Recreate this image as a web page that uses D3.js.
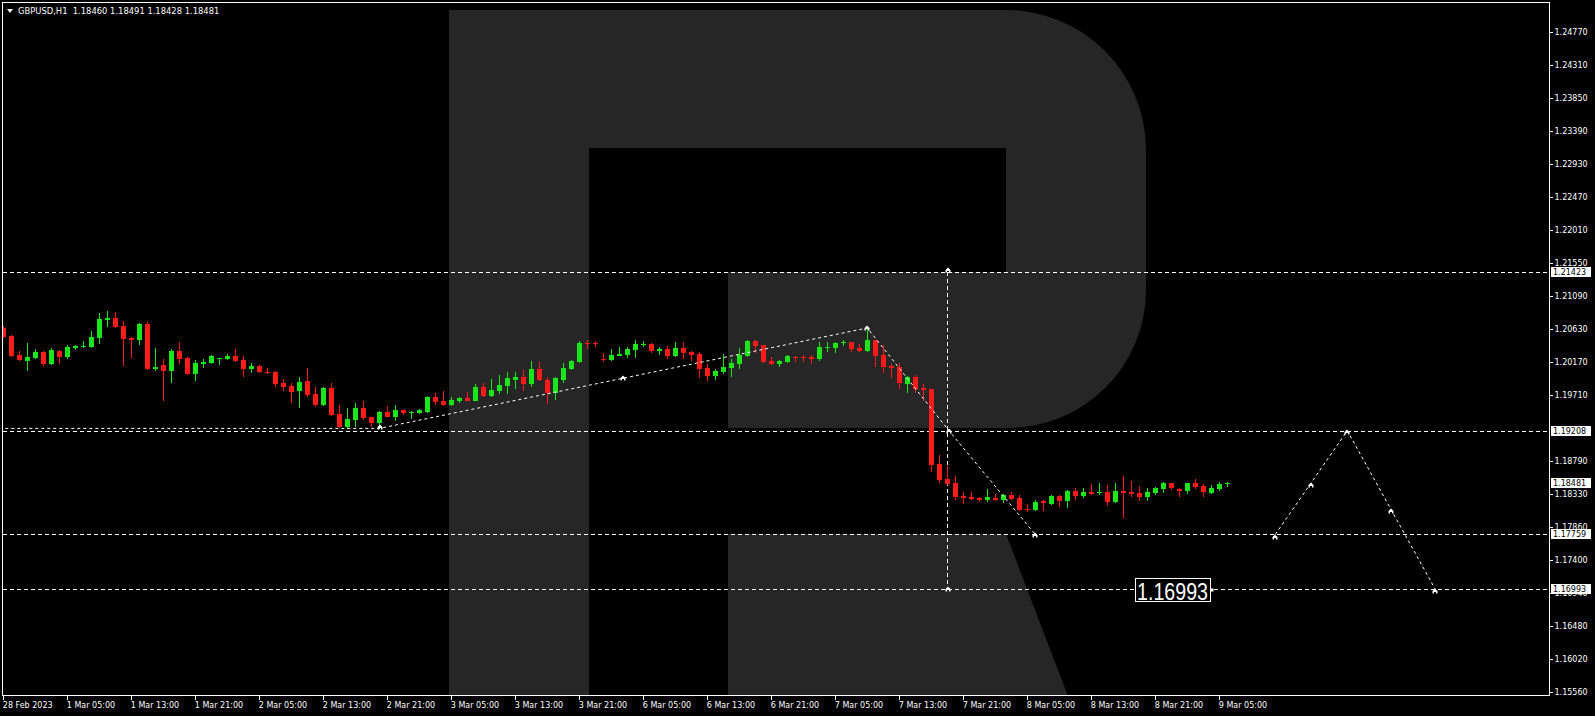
<!DOCTYPE html>
<html><head><meta charset="utf-8">
<script src="https://cdn.jsdelivr.net/npm/d3@7"></script>
<style>
html,body{margin:0;padding:0;background:#000;}
svg{display:block;}
</style></head>
<body>
<svg id="chart" width="1595" height="716"></svg>
<script>
// ---------------- data ----------------
const symbolTitle = "GBPUSD,H1";
const headerOHLC = ["1.18460", "1.18491", "1.18428", "1.18481"];

const opens = [1.20646,1.20530,1.20265,1.20185,1.20223,1.20306,1.20144,1.20320,1.20237,1.20367,
1.20376,1.20376,1.20507,1.20753,1.20781,1.20669,1.20502,1.20479,1.20697,1.20074,
1.20125,1.20046,1.20320,1.20223,1.20004,1.20144,1.20153,1.20213,1.20209,1.20251,
1.20195,1.20069,1.20111,1.20032,1.20032,1.19874,1.19832,1.19767,1.19902,1.19720,
1.19571,1.19804,1.19441,1.19265,1.19362,1.19530,1.19404,1.19321,1.19474,1.19404,
1.19502,1.19460,1.19460,1.19474,1.19684,1.19628,1.19572,1.19628,1.19670,1.19628,
1.19823,1.19692,1.19762,1.19832,1.19916,1.19957,1.19860,1.20069,1.19916,1.19734,
1.19916,1.20069,1.20167,1.20437,1.20437,1.20209,1.20199,1.20255,1.20265,1.20334,
1.20404,1.20418,1.20325,1.20348,1.20251,1.20362,1.20306,1.20279,1.20083,1.19971,
1.20027,1.20083,1.20139,1.20251,1.20460,1.20404,1.20181,1.20139,1.20167,1.20237,
1.20237,1.20237,1.20209,1.20362,1.20362,1.20437,1.20446,1.20362,1.20320,1.20474,
1.20265,1.20111,1.20097,1.19865,1.19958,1.19804,1.19790,1.18743,1.18534,1.18478,
1.18296,1.18282,1.18268,1.18241,1.18268,1.18241,1.18310,1.18268,1.18115,1.18101,
1.18227,1.18185,1.18296,1.18227,1.18366,1.18296,1.18352,1.18338,1.18352,1.18213,
1.18366,1.18352,1.18338,1.18282,1.18338,1.18394,1.18478,1.18394,1.18366,1.18478,
1.18436,1.18338,1.18394,1.18460];
const highs = [1.20669,1.20544,1.20320,1.20432,1.20344,1.20320,1.20358,1.20334,1.20404,1.20404,
1.20460,1.20600,1.20851,1.20879,1.20865,1.20739,1.20516,1.20711,1.20725,1.20362,
1.20209,1.20348,1.20446,1.20237,1.20195,1.20209,1.20265,1.20223,1.20279,1.20348,
1.20251,1.20153,1.20125,1.20083,1.20041,1.19934,1.19878,1.19957,1.20083,1.19818,
1.19822,1.19874,1.19566,1.19530,1.19600,1.19628,1.19404,1.19488,1.19558,1.19572,
1.19502,1.19488,1.19516,1.19698,1.19740,1.19767,1.19679,1.19684,1.19753,1.19865,
1.19879,1.19929,1.19985,1.20027,1.20027,1.20055,1.20181,1.20167,1.19957,1.19957,
1.20153,1.20195,1.20460,1.20474,1.20460,1.20292,1.20348,1.20376,1.20376,1.20474,
1.20460,1.20432,1.20376,1.20390,1.20446,1.20446,1.20320,1.20306,1.20139,1.20069,
1.20279,1.20209,1.20362,1.20474,1.20474,1.20404,1.20237,1.20195,1.20265,1.20251,
1.20265,1.20265,1.20446,1.20446,1.20446,1.20474,1.20451,1.20418,1.20660,1.20474,
1.20404,1.20139,1.20158,1.19967,1.19986,1.19860,1.19790,1.18869,1.18715,1.18576,
1.18352,1.18352,1.18282,1.18394,1.18324,1.18324,1.18352,1.18310,1.18185,1.18241,
1.18241,1.18310,1.18310,1.18380,1.18408,1.18408,1.18464,1.18478,1.18450,1.18478,
1.18576,1.18506,1.18436,1.18408,1.18422,1.18492,1.18478,1.18408,1.18478,1.18534,
1.18464,1.18450,1.18492,1.18491];
const lows = [1.20510,1.20246,1.20195,1.20046,1.20213,1.20116,1.20130,1.20144,1.20213,1.20339,
1.20367,1.20367,1.20432,1.20660,1.20646,1.20116,1.20227,1.20409,1.20060,1.20046,
1.19627,1.19878,1.20144,1.19999,1.19906,1.20088,1.20144,1.20130,1.20199,1.20171,
1.19962,1.20018,1.20023,1.20009,1.19822,1.19767,1.19599,1.19529,1.19683,1.19543,
1.19566,1.19418,1.19255,1.19241,1.19265,1.19358,1.19265,1.19241,1.19400,1.19348,
1.19432,1.19376,1.19446,1.19469,1.19572,1.19558,1.19558,1.19604,1.19623,1.19623,
1.19688,1.19688,1.19734,1.19725,1.19804,1.19776,1.19822,1.19906,1.19594,1.19650,
1.19874,1.20060,1.20162,1.20362,1.20381,1.20171,1.20195,1.20251,1.20223,1.20223,
1.20390,1.20306,1.20265,1.20209,1.20237,1.20209,1.20195,1.19957,1.19902,1.19916,
1.20013,1.19971,1.20083,1.20237,1.20306,1.20158,1.20130,1.20111,1.20158,1.20181,
1.20181,1.20153,1.20195,1.20320,1.20306,1.20404,1.20320,1.20316,1.20316,1.20111,
1.20027,1.19957,1.19795,1.19739,1.19739,1.19627,1.18636,1.18483,1.18459,1.18245,
1.18189,1.18241,1.18217,1.18217,1.18231,1.18203,1.18250,1.18087,1.18073,1.18097,
1.18087,1.18180,1.18143,1.18129,1.18241,1.18282,1.18320,1.18324,1.18157,1.18208,
1.18003,1.18296,1.18227,1.18227,1.18324,1.18352,1.18394,1.18296,1.18338,1.18408,
1.18296,1.18334,1.18380,1.18428];
const closes = [1.20516,1.20255,1.20199,1.20237,1.20306,1.20144,1.20334,1.20237,1.20376,1.20390,
1.20390,1.20516,1.20767,1.20781,1.20655,1.20488,1.20479,1.20697,1.20069,1.20097,
1.20041,1.20320,1.20209,1.20004,1.20153,1.20167,1.20251,1.20223,1.20251,1.20181,
1.20069,1.20111,1.20032,1.20018,1.19864,1.19822,1.19753,1.19888,1.19711,1.19571,
1.19808,1.19432,1.19264,1.19376,1.19530,1.19390,1.19321,1.19474,1.19404,1.19502,
1.19460,1.19474,1.19502,1.19684,1.19614,1.19572,1.19642,1.19670,1.19628,1.19823,
1.19698,1.19776,1.19846,1.19943,1.19957,1.19860,1.20069,1.19916,1.19734,1.19943,
1.20083,1.20181,1.20432,1.20423,1.20423,1.20195,1.20265,1.20279,1.20348,1.20418,
1.20418,1.20320,1.20348,1.20251,1.20362,1.20292,1.20265,1.20069,1.19971,1.20041,
1.20097,1.20153,1.20265,1.20460,1.20390,1.20167,1.20139,1.20181,1.20251,1.20223,
1.20223,1.20209,1.20376,1.20376,1.20432,1.20451,1.20348,1.20320,1.20474,1.20251,
1.20097,1.20088,1.19869,1.19958,1.19790,1.19776,1.18734,1.18520,1.18469,1.18287,
1.18268,1.18254,1.18245,1.18282,1.18241,1.18310,1.18254,1.18101,1.18101,1.18213,
1.18199,1.18296,1.18227,1.18366,1.18296,1.18352,1.18324,1.18352,1.18213,1.18366,
1.18338,1.18324,1.18282,1.18352,1.18408,1.18478,1.18408,1.18366,1.18478,1.18422,
1.18352,1.18408,1.18464,1.18481];

// time labels, one every 8 bars starting at bar 0
const timeLabels = ["28 Feb 2023","1 Mar 05:00","1 Mar 13:00","1 Mar 21:00","2 Mar 05:00",
"2 Mar 13:00","2 Mar 21:00","3 Mar 05:00","3 Mar 13:00","3 Mar 21:00","6 Mar 05:00",
"6 Mar 13:00","6 Mar 21:00","7 Mar 05:00","7 Mar 13:00","7 Mar 21:00","8 Mar 05:00",
"8 Mar 13:00","8 Mar 21:00","9 Mar 05:00"];
const priceTickLabels = ["1.24770","1.24310","1.23850","1.23390","1.22930","1.22470","1.22010",
"1.21550","1.21090","1.20630","1.20170","1.19710","1.18790","1.18330","1.17860",
"1.17400","1.16940","1.16480","1.16020","1.15560"];

const levels = [1.21423, 1.19208, 1.17759, 1.16993];
const levelLabels = ["1.21423", "1.19208", "1.17759", "1.16993"];
const bidPrice = 1.18481;
const bidLabel = "1.18481";

// forecast paths: [bar index, price]
const forecastPathA = [[-0.5,1.19240],[47,1.19240],[108,1.20642],[118.2,1.19208],[129,1.17759]];
const forecastPathB = [[159,1.17759],[168,1.19208],[179,1.16993]];
const forecastMarks = [[47.1,1.19260],[77.5,1.19940],[108,1.20642],[118.2,1.19204],[129,1.17748],
[159,1.17724],[163.5,1.18454],[168,1.19194],[173.5,1.18083],[179,1.16970],[118.1,1.21451],[118.1,1.16998]];
const verticalBar = 118;
const verticalFrom = 1.21423, verticalTo = 1.16993;
const targetLabel = {bar: 151, price: 1.16993, text: "1.16993"};

// ---------------- drawing ----------------
const W = 1595, H = 716;
const plotL = 2.5, plotR = 1549.5, plotT = 2.5, plotB = 695.5;
const svg = d3.select("#chart");
const N = opens.length;

const x = d3.scaleLinear().domain([0, 1]).range([3.3, 11.3]);
const y = d3.scaleLinear().domain([1.15560, 1.24770]).range([692, 32.3]);

svg.append("rect").attr("width", W).attr("height", H).attr("fill", "#000");

// watermark logo
const logoColor = "#262626";
const logo = svg.append("g").attr("fill", logoColor);
logo.append("path").attr("d",
  "M449,10 H1006 A140,140 0 0 1 1146,150 V290 A138,138 0 0 1 1008,428 H728 V272 H1006 V148 H589 V696 H449 Z");
logo.append("path").attr("d", "M728,534 H1006 L1068,696 H728 Z");

// clip
svg.append("clipPath").attr("id", "plotclip").append("rect")
  .attr("x", 3).attr("y", 3).attr("width", 1546).attr("height", 692);
const plot = svg.append("g").attr("clip-path", "url(#plotclip)");

// horizontal levels
const dash = "4,3";
plot.selectAll("line.level").data(levels).enter().append("line")
  .attr("class", "level")
  .attr("x1", 3).attr("x2", 1549)
  .attr("y1", d => Math.round(y(d)) + 0.5).attr("y2", d => Math.round(y(d)) + 0.5)
  .attr("stroke", "#fff").attr("stroke-width", 1).attr("stroke-dasharray", dash)
  .attr("shape-rendering", "crispEdges");

// vertical line
plot.append("line")
  .attr("x1", Math.round(x(verticalBar)) + 0.5).attr("x2", Math.round(x(verticalBar)) + 0.5)
  .attr("y1", y(verticalFrom)).attr("y2", y(verticalTo))
  .attr("stroke", "#fff").attr("stroke-dasharray", dash).attr("shape-rendering", "crispEdges");

// candles
const bull = "#1ae61a", bear = "#ff1a1a";
const idx = d3.range(N);
const cg = plot.append("g");
cg.selectAll("line.wick").data(idx).enter().append("line")
  .attr("x1", i => Math.round(x(i)) + 0.5).attr("x2", i => Math.round(x(i)) + 0.5)
  .attr("y1", i => y(highs[i])).attr("y2", i => y(lows[i]) + 0.5)
  .attr("stroke", i => closes[i] >= opens[i] ? bull : bear).attr("stroke-width", 1)
  .attr("shape-rendering", "crispEdges");
cg.selectAll("rect.body").data(idx).enter().append("rect")
  .attr("x", i => Math.round(x(i)) - 2).attr("width", 5)
  .attr("y", i => Math.round(y(Math.max(opens[i], closes[i]))))
  .attr("height", i => Math.max(1, Math.round(y(Math.min(opens[i], closes[i]))) - Math.round(y(Math.max(opens[i], closes[i])))))
  .attr("fill", i => closes[i] >= opens[i] ? bull : bear)
  .attr("shape-rendering", "crispEdges");

// forecast paths
const line = d3.line().x(d => x(d[0])).y(d => y(d[1]));
[forecastPathA, forecastPathB].forEach(p => {
  plot.append("path").attr("d", line(p))
    .attr("fill", "none").attr("stroke", "#fff").attr("stroke-width", 1).attr("stroke-dasharray", "3,3");
});

// markers
plot.selectAll("path.mark").data(forecastMarks).enter().append("path")
  .attr("transform", d => `translate(${Math.round(x(d[0]))},${Math.round(y(d[1]))})`)
  .attr("d", "M-2.5,2.5 V0 L0,-2.5 L2.5,0 V2.5 H1 V1 H-1 V2.5 Z")
  .attr("fill", "#fff");

// target text label
const lx = x(targetLabel.bar), ly = y(targetLabel.price);
plot.append("rect").attr("x", Math.round(lx) - 76 + 0.5).attr("y", Math.round(ly) - 11 + 0.5)
  .attr("width", 75).attr("height", 23).attr("fill", "#000").attr("stroke", "#fff").attr("stroke-width", 1)
  .attr("shape-rendering", "crispEdges");
plot.append("text").attr("x", Math.round(lx) - 3).attr("y", Math.round(ly) + 10.5)
  .attr("text-anchor", "end").attr("fill", "#fff")
  .attr("font-family", "Liberation Sans, Arial, sans-serif").attr("font-size", 23)
  .attr("textLength", 71).attr("lengthAdjust", "spacingAndGlyphs")
  .text(targetLabel.text);
plot.append("rect").attr("x", Math.round(lx) - 0.5).attr("y", Math.round(ly) - 0.5)
  .attr("width", 3).attr("height", 3).attr("fill", "#fff");

// frame
svg.append("rect").attr("x", plotL).attr("y", plotT).attr("width", plotR - plotL).attr("height", plotB - plotT)
  .attr("fill", "none").attr("stroke", "#fff").attr("stroke-width", 1).attr("shape-rendering", "crispEdges");

const fontFam = "DejaVu Sans, Verdana, sans-serif";

// right axis
const yAxis = d3.axisRight(y)
  .tickValues(priceTickLabels.map(Number))
  .tickFormat((d, i) => priceTickLabels[i])
  .tickSize(3).tickPadding(2);
const gy = svg.append("g").attr("transform", `translate(${plotR},0)`).call(yAxis);
gy.select(".domain").remove();
gy.selectAll("line").attr("stroke", "#fff").attr("shape-rendering", "crispEdges");
gy.selectAll("text").attr("fill", "#fff").attr("font-family", fontFam).attr("font-size", 8);

// bottom axis
const tickIdx = timeLabels.map((_, k) => k * 8);
const xAxis = d3.axisBottom(x)
  .tickValues(tickIdx)
  .tickFormat((d, i) => timeLabels[i])
  .tickSize(4);
const gx = svg.append("g").attr("transform", `translate(0,${plotB})`).call(xAxis);
gx.select(".domain").remove();
gx.selectAll("line").attr("stroke", "#fff").attr("shape-rendering", "crispEdges");
gx.selectAll("text").attr("fill", "#fff").attr("font-family", fontFam).attr("font-size", 8)
  .attr("text-anchor", "start").attr("x", -1).attr("y", 12).attr("dy", 0);

// price boxes on right axis
const boxes = levels.map((v, i) => [v, levelLabels[i]]).concat([[bidPrice, bidLabel]]);
const bg = svg.append("g");
boxes.forEach(([v, t]) => {
  const yy = Math.round(y(v));
  bg.append("rect").attr("x", 1551).attr("y", yy - 5).attr("width", 40).attr("height", 10).attr("fill", "#fff");
  bg.append("text").attr("x", 1553).attr("y", yy).attr("dy", "0.35em").attr("fill", "#000")
    .attr("font-family", fontFam).attr("font-size", 8).text(t);
});

// header
svg.append("path").attr("d", "M7,9 L13,9 L10,13 Z").attr("fill", "#fff");
svg.append("text").attr("x", 18).attr("y", 14).attr("fill", "#fff")
  .attr("font-family", fontFam).attr("font-size", 8.4).attr("xml:space", "preserve")
  .text(symbolTitle + "  " + headerOHLC.join(" "));
</script>
</body></html>
